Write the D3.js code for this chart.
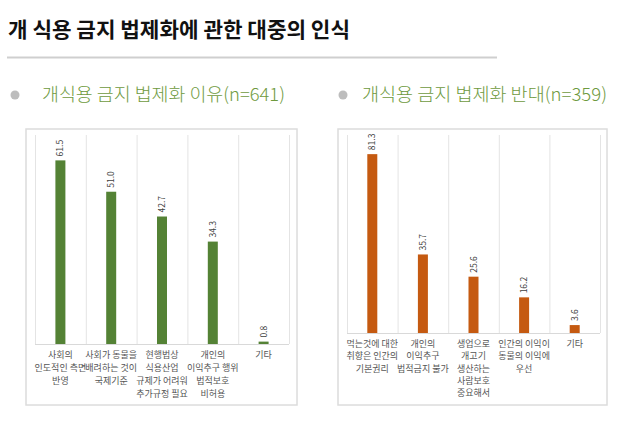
<!DOCTYPE html>
<html>
<head>
<meta charset="utf-8">
<script src="https://cdn.jsdelivr.net/npm/d3@7"></script>
<style>
  body { margin: 0; background: #fff; }
  svg text { font-family: "Noto Sans CJK KR", "Noto Sans", sans-serif; }
</style>
</head>
<body>
<div id="chart"></div>
<script>
// data
const reasonLabels = [
  ["사회의", "인도적인 측면", "반영"],
  ["사회가 동물을", "배려하는 것이", "국제기준"],
  ["현행법상", "식용산업", "규제가 어려워", "추가규정 필요"],
  ["개인의", "이익추구 행위", "법적보호", "비허용"],
  ["기타"]
];
const reasonValues = [61.5, 51.0, 42.7, 34.3, 0.8];

const againstLabels = [
  ["먹는것에 대한", "취향은 인간의", "기본권리"],
  ["개인의", "이익추구", "법적금지 불가"],
  ["생업으로", "개고기", "생산하는", "사람보호", "중요해서"],
  ["인간의 이익이", "동물의 이익에", "우선"],
  ["기타"]
];
const againstValues = [81.3, 35.7, 25.6, 16.2, 3.6];

const svg = d3.select("#chart")
    .append("svg")
    .attr("width", 640)
    .attr("height", 430);

// title + rule
svg.append("text")
    .attr("x", 8)
    .attr("y", 37)
    .attr("font-size", 21)
    .attr("font-weight", "bold")
    .attr("textLength", 342)
    .attr("lengthAdjust", "spacingAndGlyphs")
    .attr("fill", "#111")
    .text("개 식용 금지 법제화에 관한 대중의 인식");

svg.append("line")
    .attr("x1", 7).attr("x2", 497)
    .attr("y1", 57.5).attr("y2", 57.5)
    .attr("stroke", "#cfcfcf")
    .attr("stroke-width", 2);

function panel(opt) {
  const g = svg.append("g");

  // bullet + heading
  g.append("circle")
      .attr("cx", opt.dotX).attr("cy", 95).attr("r", 4.5)
      .attr("fill", "#bdbdbd");
  g.append("text")
      .attr("x", opt.titleX).attr("y", 101)
      .attr("font-size", 18)
      .attr("font-weight", 300)
      .attr("textLength", opt.titleW)
      .attr("lengthAdjust", "spacingAndGlyphs")
      .attr("fill", "#6e9a3e")
      .text(opt.title);

  // frame
  g.append("rect")
      .attr("x", opt.box[0]).attr("y", 129)
      .attr("width", opt.box[1] - opt.box[0])
      .attr("height", 276)
      .attr("fill", "#fff")
      .attr("stroke", "#dcdcdc")
      .attr("stroke-width", 1.5);

  const x = d3.scaleBand()
      .domain(d3.range(opt.values.length))
      .range(opt.xRange);

  const y = d3.scaleLinear()
      .domain([0, opt.max])
      .range([opt.base, 135]);

  // vertical grid lines at category borders
  const edges = opt.values.map((d, i) => x(i)).concat([opt.xRange[1]]);
  g.selectAll(".grid")
      .data(edges)
      .join("line")
      .attr("x1", d => d + 0.5).attr("x2", d => d + 0.5)
      .attr("y1", y(opt.max)).attr("y2", y(0))
      .attr("stroke", "#e4e4e4");

  g.append("line")
      .attr("x1", opt.xRange[0]).attr("x2", opt.xRange[1])
      .attr("y1", y(0) + 0.5).attr("y2", y(0) + 0.5)
      .attr("stroke", "#d9d9d9");

  const bw = 10;
  g.selectAll(".bar")
      .data(opt.values)
      .join("rect")
      .attr("x", (d, i) => x(i) + x.bandwidth() / 2 - bw / 2)
      .attr("y", d => y(d))
      .attr("width", bw)
      .attr("height", d => y(0) - y(d))
      .attr("fill", opt.color);

  g.selectAll(".val")
      .data(opt.values)
      .join("text")
      .attr("transform", (d, i) =>
        `translate(${x(i) + x.bandwidth() / 2 + 3},${y(d) - 4}) rotate(-90)`)
      .attr("font-size", 8.5)
      .attr("fill", "#404040")
      .text(d => d.toFixed(1));

  // category labels
  const lab = g.selectAll(".lab")
      .data(opt.labels)
      .join("text")
      .attr("text-anchor", "middle")
      .attr("font-size", 9)
      .attr("fill", "#555");
  lab.selectAll("tspan")
      .data((d, i) => d.map(s => ({s, i})))
      .join("tspan")
      .attr("x", d => x(d.i) + x.bandwidth() / 2)
      .attr("y", (d, j) => y(0) + 14 + j * opt.lineH)
      .text(d => d.s);
}

panel({
  title: "개식용 금지 법제화 이유(n=641)",
  dotX: 15, titleX: 42, titleW: 243,
  box: [26, 297],
  xRange: [35, 289],
  base: 344, max: 70,
  values: reasonValues,
  labels: reasonLabels,
  color: "#548235",
  lineH: 13
});

panel({
  title: "개식용 금지 법제화 반대(n=359)",
  dotX: 343, titleX: 362, titleW: 245,
  box: [338, 607],
  xRange: [347, 600],
  base: 333, max: 90,
  values: againstValues,
  labels: againstLabels,
  color: "#c55a11",
  lineH: 12.3
});
</script>
</body>
</html>
